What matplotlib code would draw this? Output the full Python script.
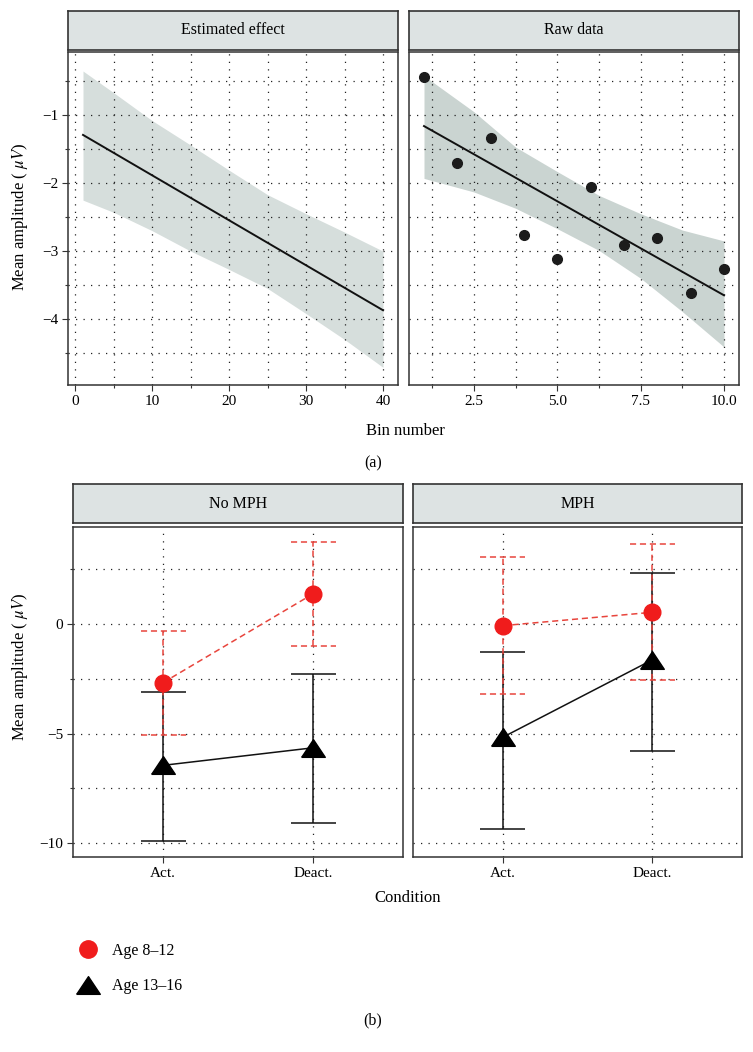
import matplotlib
matplotlib.use('Agg')
import numpy as np
import matplotlib.pyplot as plt
from matplotlib.ticker import MultipleLocator, FormatStrFormatter
from matplotlib.lines import Line2D

plt.rcParams['font.family'] = ['Liberation Serif', 'DejaVu Serif']
plt.rcParams['mathtext.fontset'] = 'stix'

# (a) estimated effect: model line and its band
est_x = [1, 40]
est_y = [-1.29, -3.87]
est_band_x = [1, 5, 10, 15, 20, 25, 30, 35, 40]
est_band_hi = [-0.35, -0.67, -1.08, -1.44, -1.81, -2.17, -2.45, -2.72, -3.00]
est_band_lo = [-2.25, -2.43, -2.70, -3.00, -3.27, -3.55, -3.92, -4.30, -4.71]

# (a) raw data per bin
raw_bin = [1, 2, 3, 4, 5, 6, 7, 8, 9, 10]
raw_amp = [-0.44, -1.70, -1.33, -2.77, -3.12, -2.06, -2.91, -2.80, -3.62, -3.26]
raw_fit_x = [1, 10]
raw_fit_y = [-1.16, -3.65]
raw_band_x = [1, 2.5, 3.75, 5, 6.25, 7.5, 8.75, 10]
raw_band_hi = [-0.42, -0.95, -1.47, -1.83, -2.18, -2.45, -2.69, -2.85]
raw_band_lo = [-1.93, -2.13, -2.37, -2.67, -2.99, -3.40, -3.89, -4.41]

# (b) condition means with intervals
conditions = ['Act.', 'Deact.']
groups = ['No MPH', 'MPH']
age_labels = ['Age 8\u201312', 'Age 13\u201316']

young_nomph = [-2.68, 1.37]
young_nomph_lo = [-5.07, -1.00]
young_nomph_hi = [-0.32, 3.74]
young_mph = [-0.08, 0.53]
young_mph_lo = [-3.18, -2.57]
young_mph_hi = [3.03, 3.64]

old_nomph = [-6.45, -5.65]
old_nomph_lo = [-9.91, -9.10]
old_nomph_hi = [-3.09, -2.27]
old_mph = [-5.17, -1.64]
old_mph_lo = [-9.34, -5.78]
old_mph_hi = [-1.26, 2.30]

W, H = 753, 1052
EDGE = '#333333'
STRIP = '#dde3e3'
RED = '#f01c1c'
RED_LINE = '#e8453d'
DASH = (0, (4, 2.5))
GRID = (0, (1, 5))
TRI = [(-1, -0.75), (1, -0.75), (0, 0.75), (-1, -0.75)]

fig = plt.figure(figsize=(W / 100, H / 100), dpi=100)


def px_box(x0, y0, x1, y1):
    return [x0 / W, 1 - y1 / H, (x1 - x0) / W, (y1 - y0) / H]


def add_strip(x0, y0, x1, y1, label):
    sax = fig.add_axes(px_box(x0, y0, x1, y1))
    sax.set_facecolor(STRIP)
    sax.set_xticks([])
    sax.set_yticks([])
    for s in sax.spines.values():
        s.set_color(EDGE)
        s.set_linewidth(1.2)
    sax.text(0.5, 0.5, label, ha='center', va='center', transform=sax.transAxes, fontsize=11.5)


def style_panel(ax, xgrid='both'):
    ax.set_axisbelow(True)
    for s in ax.spines.values():
        s.set_color(EDGE)
        s.set_linewidth(1.1)
    ax.tick_params(which='major', direction='out', length=4, width=0.8, color=EDGE,
                   labelsize=11, pad=3)
    ax.tick_params(which='minor', direction='out', length=2, width=0.8, color=EDGE)
    ax.grid(True, axis='x', which=xgrid, color='#222222', linestyle=GRID, linewidth=0.9)
    ax.grid(True, axis='y', which='both', color='#222222', linestyle=GRID, linewidth=0.9)


# ---------- (a) ----------
ax1 = fig.add_axes(px_box(68, 52, 398, 385))
ax2 = fig.add_axes(px_box(409, 52, 739, 385), sharey=ax1)
add_strip(68, 11, 398, 50, 'Estimated effect')
add_strip(409, 11, 739, 50, 'Raw data')

# band sits under the dotted grid, as in the original
ax1.fill_between(est_band_x, est_band_lo, est_band_hi, color='#d6dedc', lw=0, zorder=0.3)
ax1.plot(est_x, est_y, color='#111111', lw=1.4)
ax1.set_xlim(-0.95, 41.95)
ax1.set_ylim(-4.97, -0.07)
ax1.xaxis.set_major_locator(MultipleLocator(10))
ax1.xaxis.set_minor_locator(MultipleLocator(5))
ax1.yaxis.set_major_locator(MultipleLocator(1))
ax1.yaxis.set_minor_locator(MultipleLocator(0.5))
style_panel(ax1)

ax2.fill_between(raw_band_x, raw_band_lo, raw_band_hi, color='#cad4d1', lw=0, zorder=0.3)
ax2.plot(raw_fit_x, raw_fit_y, color='#111111', lw=1.4)
ax2.plot(raw_bin, raw_amp, 'o', color='#1c1c1c', ms=7)
ax2.set_xlim(0.55, 10.45)
ax2.xaxis.set_major_locator(MultipleLocator(2.5))
ax2.xaxis.set_minor_locator(MultipleLocator(1.25))
ax2.xaxis.set_major_formatter(FormatStrFormatter('%.1f'))
style_panel(ax2)
ax2.tick_params(axis='y', which='both', left=False, labelleft=False)

fig.text(20 / W, 1 - 217 / H, 'Mean amplitude ( $\\mu V$)', rotation=90,
         ha='center', va='center', fontsize=12)
fig.text(405 / W, 1 - 431 / H, 'Bin number', ha='center', va='center', fontsize=12)
fig.text(373 / W, 1 - 463 / H, '(a)', ha='center', va='center', fontsize=11.5)


# ---------- (b) ----------
def draw_group(ax, mean, lo, hi, color, lcolor, ls, marker, ms):
    x = np.arange(1, len(mean) + 1)
    ax.vlines(x, lo, hi, colors=lcolor, linestyles=ls, lw=1.1, zorder=2)
    ax.hlines(lo, x - 0.15, x + 0.15, colors=lcolor, linestyles=ls, lw=1.1, zorder=2)
    ax.hlines(hi, x - 0.15, x + 0.15, colors=lcolor, linestyles=ls, lw=1.1, zorder=2)
    ax.plot(x, mean, color=lcolor, ls=ls, lw=1.1, zorder=3)
    ax.plot(x, mean, ls='none', marker=marker, ms=ms, mfc=color, mec=color, zorder=4)


ax3 = fig.add_axes(px_box(73, 527, 403, 857))
ax4 = fig.add_axes(px_box(413, 527, 742, 857), sharey=ax3)
add_strip(73, 484, 403, 523, groups[0])
add_strip(413, 484, 742, 523, groups[1])

draw_group(ax3, old_nomph, old_nomph_lo, old_nomph_hi, 'black', '#111111', '-', TRI, 17)
draw_group(ax3, young_nomph, young_nomph_lo, young_nomph_hi, RED, RED_LINE, DASH, 'o', 12)
draw_group(ax4, old_mph, old_mph_lo, old_mph_hi, 'black', '#111111', '-', TRI, 17)
draw_group(ax4, young_mph, young_mph_lo, young_mph_hi, RED, RED_LINE, DASH, 'o', 12)

for ax in (ax3, ax4):
    ax.set_xlim(0.4, 2.6)
    ax.set_xticks(np.arange(1, len(conditions) + 1))
    ax.set_xticklabels(conditions)
    ax.yaxis.set_major_locator(MultipleLocator(5))
    ax.yaxis.set_minor_locator(MultipleLocator(2.5))
    style_panel(ax, xgrid='major')
ax3.set_ylim(-10.63, 4.42)
ax4.tick_params(axis='y', which='both', left=False, labelleft=False)

fig.text(20 / W, 1 - 667 / H, 'Mean amplitude ( $\\mu V$)', rotation=90,
         ha='center', va='center', fontsize=12)
fig.text(408 / W, 1 - 898 / H, 'Condition', ha='center', va='center', fontsize=12)
fig.text(373 / W, 1 - 1020 / H, '(b)', ha='center', va='center', fontsize=11.5)

handles = [
    Line2D([], [], ls='none', marker='o', ms=12.5, mfc=RED, mec=RED),
    Line2D([], [], ls='none', marker=TRI, ms=17, mfc='black', mec='black'),
]
fig.legend(handles, age_labels, loc='center left', bbox_to_anchor=(78 / W, 1 - 968.5 / H),
           frameon=False, fontsize=11.5, handlelength=1.2, handletextpad=0.9,
           labelspacing=1.25, borderpad=0, borderaxespad=0)

fig.savefig('out.png', dpi=100)
